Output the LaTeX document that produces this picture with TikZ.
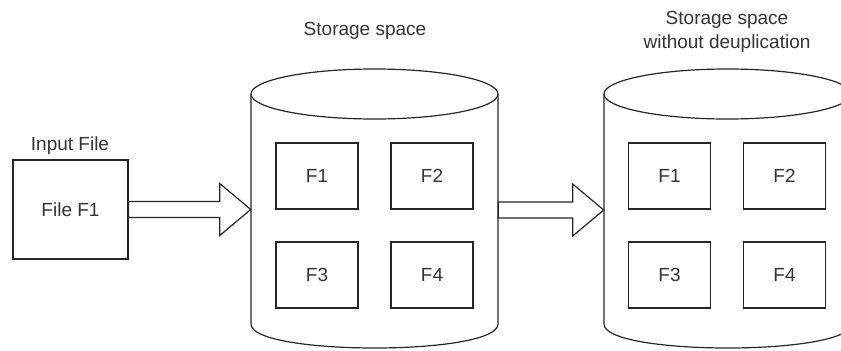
\documentclass[tikz,border=0pt]{standalone}
\usepackage{fontspec}
\setmainfont{Liberation Sans}
\usetikzlibrary{calc}
\begin{document}
\begin{tikzpicture}[x=0.75pt,y=-0.75pt,
  every node/.style={font=\fontsize{14.25pt}{18pt}\selectfont, text=black!80},
  line/.style={draw=black!85, line width=0.9pt},
  filebox/.style={line, rectangle, minimum width=61.5pt, minimum height=49.5pt, inner sep=0pt},
  inbox/.style={line, rectangle, minimum width=86.25pt, minimum height=74.25pt, inner sep=0pt},
  body/.style={rectangle, minimum width=185.25pt, minimum height=172.5pt, inner sep=0pt},
  blockarrow/.style={line, fill=white, line join=miter}
]
\useasboundingbox (0,0) rectangle (841,350);
\clip (0,0) rectangle (841,350);

% cylinder outline: #1 = left x, #2 = right x
\newcommand\drawcyl[2]{%
  \draw[line] ({(#1+#2)/2},94) ellipse [x radius={(#2-#1)/2*0.75pt}, y radius=18.75pt];
  \draw[line] (#1,94) -- (#1,324)
    .. controls (#1,356) and (#2,356) .. (#2,324) -- (#2,94);
}

% block arrow from coordinate #1 to tip #2
\newcommand\blockarr[2]{%
  \draw[blockarrow] ($(#1)+(0,-8)$) -- ($(#2)+(-31,-8)$) -- ($(#2)+(-31,-26)$)
    -- (#2) -- ($(#2)+(-31,26)$) -- ($(#2)+(-31,8)$) -- ($(#1)+(0,8)$) -- cycle;
}

% input file
\node[inbox] (input) at (70.5,209.5) {File F1};
\node (inlabel) at (70,146) {Input File};

% first storage
\drawcyl{251}{498}
\node[body] (cylA) at (374.5,209.5) {};
\node (labA) at (365,31) {Storage space};
\node[filebox] (a1) at (317,176) {F1};
\node[filebox] (a2) at (432,176) {F2};
\node[filebox] (a3) at (317,275) {F3};
\node[filebox] (a4) at (432,275) {F4};

% second storage
\drawcyl{604}{851}
\node[body] (cylB) at (727.5,210) {};
\node[align=center] (labB) at (727,32) {Storage space\\without deuplication};
\node[filebox] (b1) at (669.5,176) {F1};
\node[filebox] (b2) at (784.5,176) {F2};
\node[filebox] (b3) at (669.5,275) {F3};
\node[filebox] (b4) at (784.5,275) {F4};

% block arrows
\blockarr{input.east}{cylA.west}
\path (cylA.east) ++(0,0.5) coordinate (s2);
\blockarr{s2}{cylB.west}
\end{tikzpicture}
\end{document}
